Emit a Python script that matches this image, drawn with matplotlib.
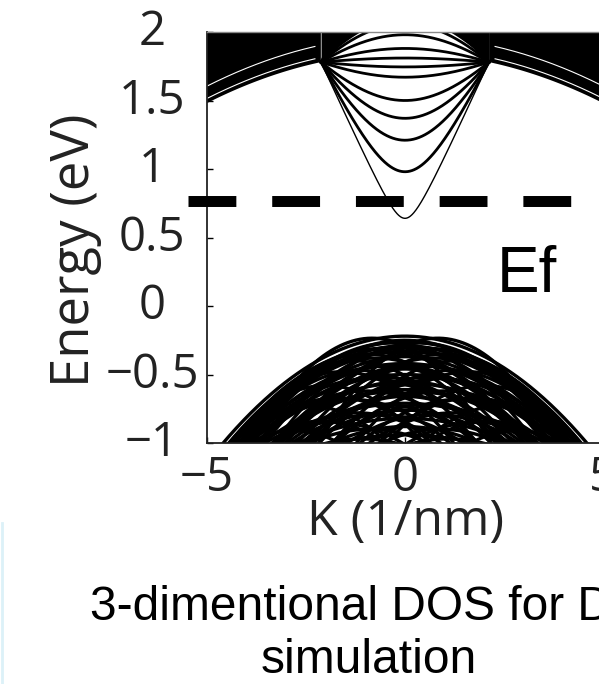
import numpy as np
import matplotlib
matplotlib.use('Agg')
import matplotlib.pyplot as plt
import matplotlib.transforms as mtransforms
from matplotlib.lines import Line2D

# ---- datos ----
# bandas de conduccion dentro de la "V" (energia en k=0), todas llegan al nodo
cb_center = [0.64, 0.98, 1.21, 1.37, 1.50, 1.67, 1.745, 1.81, 1.88, 1.98, 2.06, 2.15, 2.28, 2.45]
cb_k0 = [0.35, 1.1, 1.8, 2.2, 2.5, 3.0, 3.0, 3.0, 3.0, 3.0, 3.0, 3.0, 3.0, 3.0]
node_k = 2.12
node_e = 1.78
corner_top = 2.10   # arco que limita las cunas negras arriba de los nodos

# borde inferior de la zona densa de conduccion (fuera de la V)
edge_top = 1.846
edge_curv = 0.0146
edge_gaps = [1.88, 1.97]

# bandas de valencia: maximo, corrimiento en k, curvatura
vb_top = [-0.22, -0.235, -0.25, -0.26, -0.27, -0.29, -0.30, -0.31, -0.33, -0.34,
          -0.35, -0.37, -0.38, -0.40, -0.42, -0.43, -0.44, -0.46, -0.47, -0.48,
          -0.50, -0.52, -0.53, -0.55, -0.57, -0.58, -0.61, -0.62, -0.63, -0.66,
          -0.67, -0.68, -0.71, -0.72, -0.73, -0.76, -0.78, -0.79, -0.82, -0.84,
          -0.85, -0.88, -0.90, -0.91, -0.94, -0.97]
vb_shift = [0, 0.83, 0, 0, 0.35, 0, 0.2, 0.6, 0, 0.45, 1.0, 0, 0.75, 1.3, 0,
            0.25, 0.5, 0, 1.15, 1.6, 0, 0.6, 0.9, 0, 0.3, 2.0, 0, 1.0, 0.4, 0,
            1.7, 1.4, 0, 0.55, 2.4, 0, 1.2, 0.7, 0, 2.1, 1.8, 0, 0.9, 2.8, 0,
            1.1]
vb_curv = [0.037, 0.085, 0.047, 0.040, 0.055, 0.042, 0.050, 0.050, 0.038, 0.055,
           0.060, 0.045, 0.052, 0.065, 0.034, 0.048, 0.045, 0.050, 0.060, 0.065,
           0.032, 0.050, 0.050, 0.042, 0.046, 0.070, 0.030, 0.050, 0.045, 0.050,
           0.060, 0.050, 0.028, 0.048, 0.070, 0.040, 0.050, 0.045, 0.025, 0.065,
           0.050, 0.035, 0.045, 0.070, 0.020, 0.040]

fermi = 0.77
yticks = [-1, -0.5, 0, 0.5, 1, 1.5, 2]
xticks = [-5, 0, 5]

fig = plt.figure(figsize=(5.99, 6.84), dpi=100)
ax = fig.add_axes([207/599, 241/684, 396/599, 411/684])

k = np.linspace(-5, 5, 1201)

# valencia
for top, s, a in zip(vb_top, vb_shift, vb_curv):
    for sg in ([1, -1] if s else [1]):
        ax.plot(k, top - a*(k - sg*s)**2, color='black', lw=2.4)

# zona densa de conduccion
edge = edge_top - edge_curv*k**2
ax.fill_between(k, edge, 2.1, where=np.abs(k) >= node_k, color='black', lw=0)
for g in edge_gaps:
    m = np.abs(k) >= node_k + 0.15
    kk = k[m]
    gl = g - edge_curv*kk**2
    ax.plot(kk[kk < 0], gl[kk < 0], color='white', lw=0.8)
    ax.plot(kk[kk > 0], gl[kk > 0], color='white', lw=0.8)

# bandas de la V
kv = np.linspace(-node_k, node_k, 401)
fn3 = np.sqrt(1 + (node_k/3.0)**2) - 1
corner = corner_top + (node_e - corner_top)*(np.sqrt(1 + (kv/3.0)**2) - 1)/fn3
ax.fill_between(kv, corner, 2.1, color='black', lw=0)
for i, (ec, k0) in enumerate(zip(cb_center, cb_k0)):
    f = np.sqrt(1 + (kv/k0)**2) - 1
    fn = np.sqrt(1 + (node_k/k0)**2) - 1
    ax.plot(kv, ec + (node_e - ec)*f/fn, color='black', lw=1.0 if i == 0 else 2.0)

# nivel de Fermi
ax.plot([-5.48, 4.22], [fermi, fermi], color='black', lw=7.9, dashes=(4.36, 3.27),
        clip_on=False, zorder=5)

ax.set_xlim(-5, 5)
ax.set_ylim(-1, 2)
ax.set_xticks(xticks)
ax.set_yticks(yticks)
ax.set_xticklabels(['\u22125', '0', '5'])
ax.set_yticklabels(['\u22121', '\u22120.5', '0', '0.5', '1', '1.5', '2'])
ax.tick_params(direction='in', length=4, width=1)
ax.tick_params(axis='y', pad=39.6)
ax.tick_params(axis='x', pad=8)
for t in ax.get_yticklabels() + ax.get_xticklabels():
    t.set_fontfamily('Open Sans')
    t.set_fontsize(34)
    t.set_color('#222222')
off = mtransforms.ScaledTranslation(0, 3.6/72, fig.dpi_scale_trans)
for t in ax.get_yticklabels():
    t.set_horizontalalignment('center')
    t.set_transform(t.get_transform() + off)

for sp in ['left', 'bottom']:
    ax.spines[sp].set_linewidth(1.3)
    ax.spines[sp].set_color('#222222')
ax.spines['top'].set_linewidth(1.0)
ax.spines['top'].set_color('#888888')

ax.set_ylabel('Energy (eV)', fontfamily='Open Sans', fontsize=38, color='#222222')
ax.yaxis.set_label_coords(-0.265, 0.468)
ax.set_xlabel('K (1/nm)', fontfamily='Open Sans', fontsize=36, color='#222222')
ax.xaxis.set_label_coords(0.5025, -0.133)

fig.text(497/599, 392/684, 'Ef', fontfamily='Liberation Sans', fontsize=46,
         va='baseline', ha='left')
fig.text(90/599, 64/684, '3-dimentional DOS for D', fontfamily='Liberation Sans',
         fontsize=34.5, va='baseline', ha='left')
fig.text(369/599, 11/684, 'simulation', fontfamily='Liberation Sans',
         fontsize=34.5, va='baseline', ha='center')

# borde celeste del recuadro de la diapositiva
fig.add_artist(Line2D([1.5/599, 1.5/599], [0, 161/684], color='#dcf1f8', lw=2))

fig.savefig('out.png', dpi=100)
